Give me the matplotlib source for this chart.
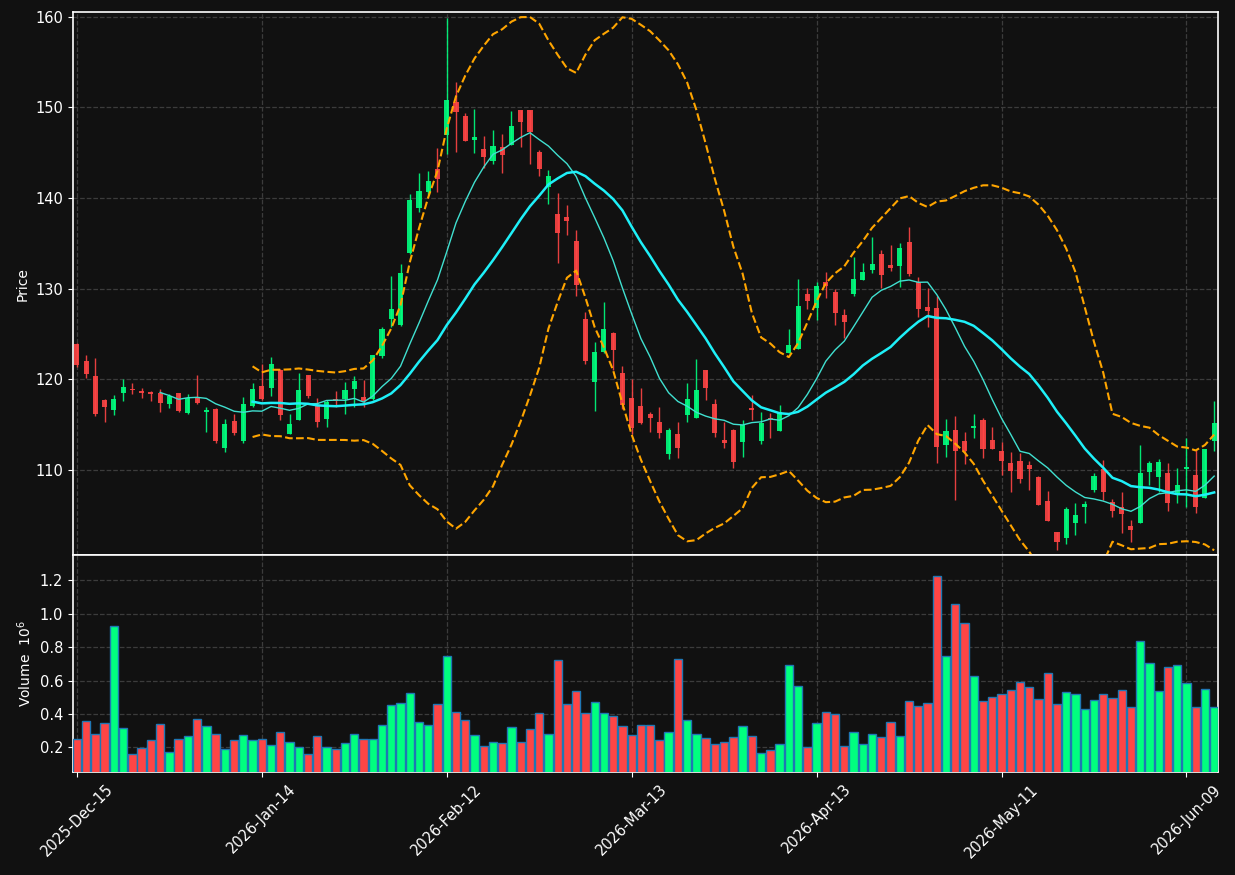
import matplotlib
matplotlib.use("Agg")
import matplotlib.pyplot as plt
import numpy as np
import pandas as pd

# daily OHLC (price) and volume (millions), one entry per trading day
opens = [123.9, 121.96, 120.3, 117.7, 116.6, 118.47, 118.94, 118.7, 118.58, 118.47,
         117.25, 118.47, 116.26, 117.95, 116.4, 116.7, 112.4, 115.38, 113.2, 117.0,
         119.24, 119.06, 121.0, 113.94, 115.52, 120.45, 117.14, 115.6, 117.8, 117.77,
         118.91, 118.06, 117.77, 122.59, 126.63, 125.97, 133.96, 138.89, 140.69, 143.15,
         146.94, 150.55, 149.04, 146.43, 145.4, 144.11, 145.62, 145.88, 149.7, 149.7,
         145.07, 141.17, 138.22, 137.89, 135.24, 126.63, 119.72, 122.95, 125.09, 120.66,
         117.9, 117.03, 116.15, 115.27, 111.77, 113.94, 116.0, 115.75, 121.01, 117.26,
         113.28, 114.39, 113.1, 116.8, 113.21, 115.7, 114.31, 122.92, 123.36, 129.4,
         127.89, 130.72, 129.62, 127.08, 129.4, 130.94, 132.05, 133.81, 132.6, 132.49,
         135.14, 130.76, 128.0, 127.85, 112.73, 114.39, 113.17, 114.65, 115.49, 113.28,
         112.07, 110.75, 110.96, 110.52, 109.19, 106.54, 103.12, 102.5, 104.15, 105.92,
         107.76, 110.04, 106.43, 105.92, 103.82, 104.15, 109.78, 109.23, 109.67, 107.39,
         110.08, 109.41, 106.91, 113.17]
highs = [124.0, 122.7, 122.3, 117.75, 118.2, 119.97, 119.6, 119.02, 118.7, 118.87,
         118.32, 118.5, 118.32, 120.45, 116.92, 116.8, 115.56, 116.1, 118.06, 119.6,
         121.67, 122.4, 121.1, 116.1, 120.64, 120.5, 117.88, 117.7, 118.7, 119.64,
         120.34, 119.9, 122.7, 125.8, 131.38, 132.67, 140.4, 142.7, 142.97, 145.47,
         159.82, 152.76, 149.4, 149.78, 146.83, 147.46, 147.02, 149.56, 149.75, 149.75,
         145.25, 143.08, 140.5, 139.18, 136.42, 127.44, 124.06, 128.47, 125.15, 121.45,
         119.98, 118.98, 116.41, 116.89, 114.64, 115.31, 119.54, 122.19, 121.05, 117.77,
         115.3, 114.45, 115.49, 118.3, 116.41, 116.23, 117.15, 125.5, 131.02, 130.02,
         130.76, 131.8, 129.99, 127.7, 133.52, 132.86, 135.65, 134.25, 134.8, 134.99,
         136.76, 131.24, 130.02, 129.18, 115.6, 115.97, 114.13, 116.12, 115.75, 114.68,
         113.1, 111.99, 111.8, 110.96, 109.25, 107.65, 103.15, 105.88, 106.29, 106.54,
         109.6, 111.07, 106.73, 107.5, 104.45, 112.69, 110.96, 111.14, 110.7, 110.15,
         113.46, 112.17, 112.3, 117.58]
lows = [121.3, 120.1, 115.9, 115.3, 116.07, 117.62, 118.32, 117.95, 117.62, 116.4,
        116.85, 116.4, 116.15, 117.3, 114.2, 112.9, 112.0, 113.8, 112.9, 116.96,
        117.7, 118.17, 115.49, 113.9, 115.5, 117.95, 114.68, 114.75, 116.9, 116.1,
        116.96, 116.9, 117.7, 122.3, 125.8, 125.9, 133.77, 138.4, 140.32, 140.69,
        144.85, 145.1, 146.3, 144.92, 143.26, 143.7, 142.8, 145.85, 145.66, 143.8,
        142.45, 139.29, 132.85, 135.87, 129.17, 121.7, 116.5, 122.9, 121.0, 116.7,
        113.9, 115.05, 114.13, 113.47, 111.15, 111.26, 115.31, 115.7, 117.7, 113.65,
        112.36, 110.16, 111.37, 115.49, 112.84, 113.47, 114.3, 122.9, 123.3, 127.7,
        126.53, 128.92, 125.94, 124.5, 129.21, 130.9, 131.68, 130.02, 131.97, 130.13,
        131.38, 126.82, 125.72, 110.71, 111.37, 106.6, 110.6, 113.47, 111.26, 112.25,
        109.42, 107.58, 108.5, 107.76, 106.1, 104.3, 101.1, 101.76, 102.75, 104.08,
        107.57, 106.66, 104.74, 103.05, 102.06, 104.1, 108.31, 107.57, 105.48, 106.36,
        105.92, 105.18, 106.9, 112.1]
closes = [121.6, 120.6, 116.2, 116.9, 117.8, 119.13, 118.8, 118.47, 118.4, 117.36,
          118.14, 116.48, 117.95, 117.36, 116.63, 113.2, 115.0, 114.0, 117.25, 118.91,
          117.8, 121.67, 116.04, 115.05, 118.8, 118.14, 115.3, 117.44, 117.62, 118.8,
          119.83, 117.62, 122.66, 125.53, 127.74, 131.67, 139.77, 140.76, 141.87, 142.09,
          150.81, 149.52, 146.32, 146.72, 144.55, 145.73, 144.74, 147.94, 148.41, 147.24,
          143.23, 142.42, 136.09, 137.49, 130.42, 122.03, 123.03, 125.53, 123.25, 117.1,
          114.64, 115.2, 115.75, 114.02, 114.35, 112.44, 117.81, 118.8, 119.06, 114.09,
          112.99, 110.89, 114.94, 116.6, 115.2, 115.6, 116.41, 123.77, 128.07, 128.63,
          130.28, 130.32, 127.34, 126.34, 131.05, 131.83, 132.71, 131.5, 132.3, 134.44,
          131.61, 127.74, 127.56, 112.55, 114.28, 112.11, 112.11, 114.83, 112.29, 112.33,
          110.96, 109.9, 109.01, 110.08, 106.1, 104.34, 102.02, 105.66, 105.0, 106.25,
          109.3, 107.57, 105.48, 105.11, 103.34, 109.6, 110.78, 110.89, 106.36, 108.31,
          110.3, 105.92, 112.28, 115.15]
volumes = [0.248, 0.356, 0.278, 0.344, 0.924, 0.314, 0.162, 0.194, 0.242, 0.338,
           0.174, 0.248, 0.266, 0.367, 0.326, 0.278, 0.188, 0.242, 0.272, 0.242,
           0.248, 0.212, 0.290, 0.230, 0.200, 0.162, 0.266, 0.200, 0.188, 0.224,
           0.278, 0.248, 0.248, 0.332, 0.451, 0.463, 0.523, 0.350, 0.332, 0.457,
           0.745, 0.409, 0.361, 0.272, 0.206, 0.230, 0.224, 0.320, 0.230, 0.308,
           0.403, 0.278, 0.721, 0.457, 0.535, 0.403, 0.469, 0.403, 0.385, 0.326,
           0.272, 0.332, 0.332, 0.242, 0.290, 0.727, 0.361, 0.278, 0.254, 0.218,
           0.230, 0.260, 0.326, 0.266, 0.164, 0.182, 0.218, 0.691, 0.565, 0.200,
           0.344, 0.409, 0.401, 0.206, 0.290, 0.218, 0.282, 0.260, 0.350, 0.266,
           0.475, 0.445, 0.463, 1.228, 0.745, 1.060, 0.942, 0.625, 0.475, 0.499,
           0.517, 0.541, 0.589, 0.559, 0.487, 0.643, 0.457, 0.529, 0.517, 0.427,
           0.481, 0.517, 0.493, 0.541, 0.439, 0.835, 0.703, 0.535, 0.679, 0.691,
           0.583, 0.439, 0.547, 0.439]

holidays = ["2025-12-25", "2026-01-01", "2026-01-19", "2026-02-16", "2026-04-03", "2026-05-25"]
dates = pd.bdate_range("2025-12-15", "2026-06-30", freq="C", holidays=holidays)[:len(closes)]

BG = "#111111"
UP = "#00ff7f"
DOWN = "#ff4545"

df = pd.DataFrame({"open": opens, "high": highs, "low": lows, "close": closes,
                   "volume": volumes}, index=dates)
df["ma10"] = df["close"].rolling(10).mean()
df["ma20"] = df["close"].rolling(20).mean()
sd20 = df["close"].rolling(20).std(ddof=0)
df["bb_up"] = df["ma20"] + 2 * sd20
df["bb_lo"] = df["ma20"] - 2 * sd20

x = np.arange(len(df))
is_up = df["close"].values >= df["open"].values
colors = np.where(is_up, UP, DOWN)

fig = plt.figure(figsize=(12.35, 8.75), dpi=100, facecolor=BG)
ax_p = fig.add_axes([0.0589, 0.3657, 0.9276, 0.6202], facecolor=BG)
ax_v = fig.add_axes([0.0589, 0.1177, 0.9276, 0.2480], facecolor=BG, sharex=ax_p)

# candles
ax_p.vlines(x, df["low"], df["high"], colors=colors, linewidth=1.0, alpha=0.9, zorder=2)
body_lo = np.minimum(df["open"].values, df["close"].values)
body_h = np.maximum(np.abs(df["close"].values - df["open"].values), 0.08)
ax_p.bar(x, body_h, bottom=body_lo, width=0.55, color=colors, alpha=0.9,
         linewidth=0, zorder=3)

# moving averages and bollinger bands
ax_p.plot(x, df["ma10"], color="#40e0d0", linewidth=1.0, zorder=4)
ax_p.plot(x, df["ma20"], color="#1ef0f8", linewidth=1.8, zorder=4)
ax_p.plot(x, df["bb_up"], color="#ffa500", linewidth=1.5, linestyle="--", zorder=4)
ax_p.plot(x, df["bb_lo"], color="#ffa500", linewidth=1.5, linestyle="--", zorder=4)

# volume
ax_v.bar(x, df["volume"], width=0.9, color=colors, edgecolor="#1f77b4",
         linewidth=1.0, zorder=3)

ax_p.set_xlim(-0.45, len(df) - 1 + 0.45)
ax_p.set_ylim(100.58, 160.49)
ax_v.set_ylim(0.052, 1.352)
ax_p.set_yticks([110, 120, 130, 140, 150, 160])
ax_v.set_yticks([0.2, 0.4, 0.6, 0.8, 1.0, 1.2])

tick_idx = list(range(0, len(df), 20))
ax_v.set_xticks(tick_idx)
ax_v.set_xticklabels([dates[i].strftime("%Y-%b-%d") for i in tick_idx],
                     rotation=45, ha="center")
ax_p.tick_params(axis="x", which="both", bottom=False, labelbottom=False)

ax_p.set_ylabel("Price", color="white", fontsize=10)
ax_v.set_ylabel("Volume  $10^{6}$", color="white", fontsize=10)

for ax in (ax_p, ax_v):
    ax.grid(True, color="#3c3c3c", linestyle="--", linewidth=0.9)
    ax.set_axisbelow(True)
    for sp in ax.spines.values():
        sp.set_color("white")
        sp.set_linewidth(1.2)
    ax.tick_params(colors="white", labelcolor="white", labelsize=10.5)

fig.savefig("out.png", dpi=100, facecolor=BG)
